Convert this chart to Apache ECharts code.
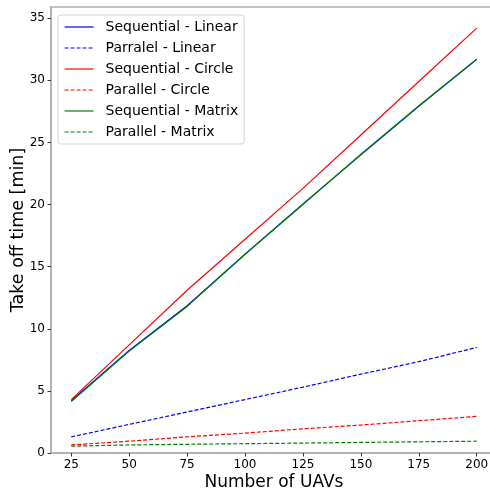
<!DOCTYPE html>
<html><head><meta charset="utf-8">
<script src="https://cdn.jsdelivr.net/npm/echarts@6/dist/echarts.min.js"></script>
<style>html,body{margin:0;padding:0;background:#fff}#c{width:490px;height:492px}</style>
</head><body><div id="c"></div>
<script>
const uavs = [25, 50, 75, 100, 125, 150, 175, 200];
const seqLinear = [4.2, 8.25, 11.85, 16.0, 20.05, 24.0, 27.9, 31.7];
const parLinear = [1.3, 2.3, 3.3, 4.3, 5.3, 6.35, 7.35, 8.5];
const seqCircle = [4.3, 8.7, 13.1, 17.2, 21.3, 25.6, 29.9, 34.2];
const parCircle = [0.65, 0.95, 1.3, 1.6, 1.95, 2.25, 2.6, 2.95];
const seqMatrix = [4.15, 8.2, 11.8, 16.0, 20.0, 24.05, 27.95, 31.7];
const parMatrix = [0.55, 0.65, 0.7, 0.75, 0.8, 0.85, 0.9, 0.95];
const xTicks = [25, 50, 75, 100, 125, 150, 175, 200];
const yTicks = [0, 5, 10, 15, 20, 25, 30, 35];

const FONT = 'DejaVu Sans';
function mk(name, vals, color, dashed) {
  return {
    name: name, type: 'line', showSymbol: false, symbol: 'none',
    data: uavs.map((u, i) => [u, vals[i]]),
    lineStyle: { color: color, width: 1.2, type: dashed ? [4, 2] : 'solid' },
    itemStyle: { color: color },
    animation: false
  };
}
const chart = echarts.init(document.getElementById('c'), null, { renderer: 'canvas' });
chart.setOption({
  animation: false,
  backgroundColor: '#fff',
  grid: { left: 51, right: -7, top: 7, bottom: 39, outerBoundsMode: 'none', containLabel: false, show: true, borderColor: '#b0b0b0', borderWidth: 1.5 },
  xAxis: {
    type: 'value', min: 16.25, max: 208.75,
    name: 'Number of UAVs', nameLocation: 'middle', nameGap: 21, nameMoveOverlap: false,
    nameTextStyle: { fontFamily: FONT, fontSize: 17, color: '#000' },
    axisLine: { show: true, lineStyle: { color: '#b0b0b0', width: 2 } },
    axisTick: { show: true, length: 3.5, inside: false, customValues: xTicks, lineStyle: { color: '#333' } },
    axisLabel: { customValues: xTicks, fontFamily: FONT, fontSize: 12, color: '#000', margin: 6 },
    splitLine: { show: false }
  },
  yAxis: {
    type: 'value', min: 0, max: 35.9,
    name: 'Take off time [min]', nameLocation: 'middle', nameGap: 24, nameRotate: 90, nameMoveOverlap: false,
    nameTextStyle: { fontFamily: FONT, fontSize: 17.5, color: '#000' },
    axisLine: { show: true, lineStyle: { color: '#b0b0b0', width: 2 } },
    axisTick: { show: true, length: 3.5, customValues: yTicks, lineStyle: { color: '#333' } },
    axisLabel: { customValues: yTicks, fontFamily: FONT, fontSize: 12, color: '#000', margin: 6 },
    splitLine: { show: false }
  },
  legend: {
    orient: 'vertical', left: 58, top: 15,
    padding: [5, 6, 5, 6],
    itemWidth: 29, itemHeight: 14, itemGap: 7,
    itemStyle: { opacity: 0 },
    lineStyle: { width: 1.2 },
    backgroundColor: 'rgba(255,255,255,0.8)', borderColor: '#d5d5d5', borderWidth: 1, borderRadius: 3,
    textStyle: { fontFamily: FONT, fontSize: 14, color: '#000', padding: [0, 0, 0, 7] },
    data: ['Sequential - Linear', 'Parralel - Linear', 'Sequential - Circle', 'Parallel - Circle', 'Sequential - Matrix', 'Parallel - Matrix']
  },
  series: [
    mk('Sequential - Linear', seqLinear, '#0000ff', false),
    mk('Parralel - Linear', parLinear, '#0000ff', true),
    mk('Sequential - Circle', seqCircle, '#ff0000', false),
    mk('Parallel - Circle', parCircle, '#ff0000', true),
    mk('Sequential - Matrix', seqMatrix, '#008000', false),
    mk('Parallel - Matrix', parMatrix, '#008000', true)
  ]
});
</script></body></html>
